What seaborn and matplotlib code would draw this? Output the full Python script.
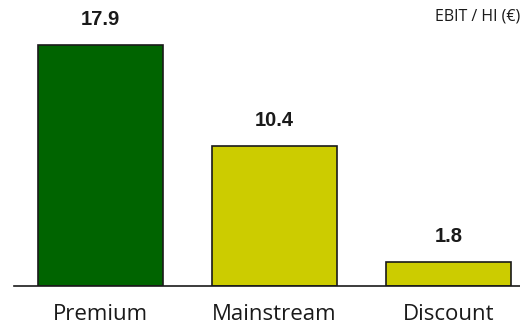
import matplotlib
matplotlib.use("Agg")
import matplotlib.pyplot as plt
import seaborn as sns
import pandas as pd

categories = ["Premium", "Mainstream", "Discount"]
values = [17.9, 10.4, 1.8]
colors = ["#006400", "#CCCC00", "#CCCC00"]
title = "EBIT / HI (€)"

df = pd.DataFrame({"segment": categories, "ebit": values})

sns.set_theme(style="white")
plt.rcParams["font.family"] = ["Liberation Sans", "DejaVu Sans"]

fig = plt.figure(figsize=(5.2, 3.29), dpi=100)
ax = fig.add_axes([14 / 520, 43 / 329, 1 - 14 / 520, 286 / 329])

sns.barplot(data=df, x="segment", y="ebit", hue="segment",
            palette=dict(zip(categories, colors)), order=categories,
            width=0.718, saturation=1, edgecolor="#1a1a1a", linewidth=1.2,
            legend=False, ax=ax)

ax.set_xlim(-0.497, 2.41)
ax.set_ylim(0, 21.25)

for i, v in enumerate(values):
    ax.annotate(f"{v:.1f}", (i, v), xytext=(0, 14.5), textcoords="offset points",
                ha="center", va="baseline", fontsize=14.5, fontweight="bold",
                color="#1a1a1a")

for s in ["top", "right", "left"]:
    ax.spines[s].set_visible(False)
ax.spines["bottom"].set_color("#1a1a1a")
ax.spines["bottom"].set_linewidth(1.2)
ax.set_yticks([])
ax.set_xlabel("")
ax.set_ylabel("")
ax.tick_params(axis="x", length=0, pad=13)
for lab in ax.get_xticklabels():
    lab.set_fontfamily(["Open Sans", "DejaVu Sans"])
    lab.set_fontsize(16)
    lab.set_color("#1a1a1a")

fig.text(435 / 520, 1 - 16.5 / 329, title, ha="left", va="center",
         fontsize=11.5, color="#1a1a1a", family=["Open Sans", "DejaVu Sans"])

fig.savefig("out.png", dpi=100)
